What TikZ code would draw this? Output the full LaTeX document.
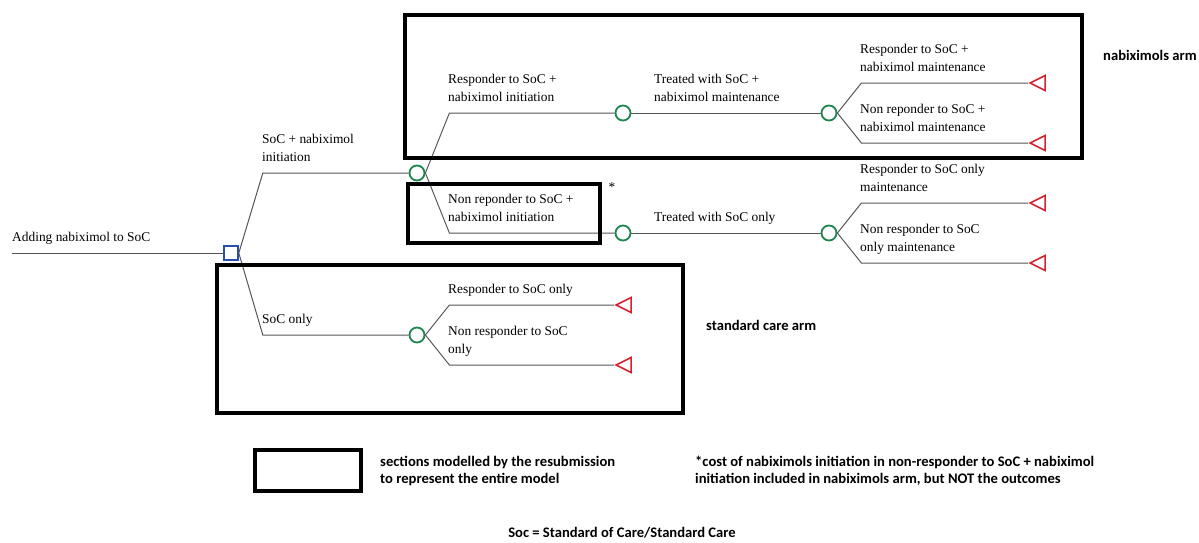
\documentclass[tikz,border=0pt]{standalone}
\usepackage{fontspec}
\setmainfont{Liberation Serif}
\newfontfamily\calibri{Carlito}
\usetikzlibrary{shapes,positioning}
\definecolor{decblue}{RGB}{40,80,170}
\definecolor{chgreen}{RGB}{30,135,80}
\definecolor{termred}{RGB}{215,30,45}
\definecolor{branchgray}{RGB}{85,85,85}
\tikzstyle{branch}=[draw=branchgray, line width=1pt]
\tikzstyle{decision}=[draw=decblue, line width=1.6pt, rectangle, minimum size=14pt, inner sep=0pt]
\tikzstyle{chance}=[draw=chgreen, line width=1.8pt, circle, minimum size=15pt, inner sep=0pt]
\tikzstyle{terminal}=[draw=termred, line width=1.6pt, isosceles triangle, isosceles triangle stretches,
shape border rotate=180, minimum width=15pt, minimum height=15pt, inner sep=0pt, anchor=apex]
\tikzstyle{lbl}=[anchor=base west, inner sep=0pt, align=left, font=\fontsize{13.4}{18}\selectfont]
\tikzstyle{armbox}=[draw, line width=4.5pt]
\tikzstyle{note}=[inner sep=0pt, align=left, font=\calibri\bfseries\fontsize{14.6}{17}\selectfont]

\begin{document}
\begin{tikzpicture}[x=1pt, y=-1pt]
    \useasboundingbox (0,0) rectangle (1199,543);

    % DECISION
    \coordinate (start) at (12,253);
    \node[decision] (dec) at (231,253) {};
    \draw[branch] (start) -- (dec) ;
    \node[lbl] (lRoot) at (12,241) {Adding nabiximol to SoC} ;

    % SOC + NABIXIMOL INITIATION
    \node[chance] (ini) at (417,173) {};
    \draw[branch] (dec.east) -- ++(24,-80) -- (ini) ;
    \node[lbl] (lIni) at (262,161) {SoC + nabiximol\\initiation} ;

    % SOC ONLY
    \node[chance] (soc) at (417,335) {};
    \draw[branch] (dec.east) -- ++(24,82) -- (soc) ;
    \node[lbl] (lSoc) at (262,323) {SoC only} ;

    % RESPONDER INITIATION
    \node[chance] (resIni) at (623,113) {};
    \draw[branch] (ini.east) -- ++(24,-60) -- (resIni) ;
    \node[lbl] (lResIni) at (448,101) {Responder to SoC +\\nabiximol initiation} ;

    % NON RESPONDER INITIATION
    \node[chance] (nonIni) at (623,233) {};
    \draw[branch] (ini.east) -- ++(24,60) -- (nonIni) ;
    \node[lbl] (lNonIni) at (448,221) {Non reponder to SoC +\\nabiximol initiation} ;

    % MAINTENANCE
    \node[chance] (mainNab) at (829,113) {};
    \draw[branch] (resIni) -- (mainNab) ;
    \node[lbl] (lMainNab) at (654,101) {Treated with SoC +\\nabiximol maintenance} ;

    \node[chance] (mainSoc) at (829,233) {};
    \draw[branch] (nonIni) -- (mainSoc) ;
    \node[lbl] (lMainSoc) at (654,221) {Treated with SoC only} ;

    % TERMINALS NABIXIMOL
    \node[terminal] (t1) at (1028,83) {};
    \draw[branch] (mainNab.east) -- ++(24,-30) -- (t1.apex) ;
    \node[lbl] (lT1) at (860,71) {Responder to SoC +\\nabiximol maintenance} ;

    \node[terminal] (t2) at (1028,143) {};
    \draw[branch] (mainNab.east) -- ++(24,30) -- (t2.apex) ;
    \node[lbl] (lT2) at (860,131) {Non reponder to SoC +\\nabiximol maintenance} ;

    % TERMINALS SOC MAINTENANCE
    \node[terminal] (t3) at (1028,203) {};
    \draw[branch] (mainSoc.east) -- ++(24,-30) -- (t3.apex) ;
    \node[lbl] (lT3) at (860,191) {Responder to SoC only\\maintenance} ;

    \node[terminal] (t4) at (1028,263) {};
    \draw[branch] (mainSoc.east) -- ++(24,30) -- (t4.apex) ;
    \node[lbl] (lT4) at (860,251) {Non responder to SoC\\only maintenance} ;

    % TERMINALS SOC ONLY
    \node[terminal] (t5) at (614,305) {};
    \draw[branch] (soc.east) -- ++(24,-30) -- (t5.apex) ;
    \node[lbl] (lT5) at (448,293) {Responder to SoC only} ;

    \node[terminal] (t6) at (614,365) {};
    \draw[branch] (soc.east) -- ++(24,30) -- (t6.apex) ;
    \node[lbl] (lT6) at (448,353) {Non responder to SoC\\only} ;

    % ARM BOXES
    \draw[armbox] (405,15) rectangle (1082,158) ;
    \draw[armbox] (408,184) rectangle (600,243) ;
    \draw[armbox] (217,265) rectangle (683,413) ;
    \node[inner sep=0pt, font=\fontsize{13.4}{16}\selectfont] (star) at (612,187) {*} ;
    \node[note, anchor=west] (nabArm) at (1103,55) {nabiximols arm} ;
    \node[note, anchor=west] (socArm) at (706,325) {standard care arm} ;

    % LEGEND
    \draw[armbox] (255,450) rectangle (361,491) ;
    \node[note, anchor=west] (legend) at (380,471) {sections modelled by the resubmission\\to represent the entire model} ;
    \node[note, anchor=west] (costNote) at (695,471) {*cost of nabiximols initiation in non-responder to SoC + nabiximol\\initiation included in nabiximols arm, but NOT the outcomes} ;
    \node[note] (socNote) at (622,533) {Soc = Standard of Care/Standard Care} ;

\end{tikzpicture}
\end{document}
